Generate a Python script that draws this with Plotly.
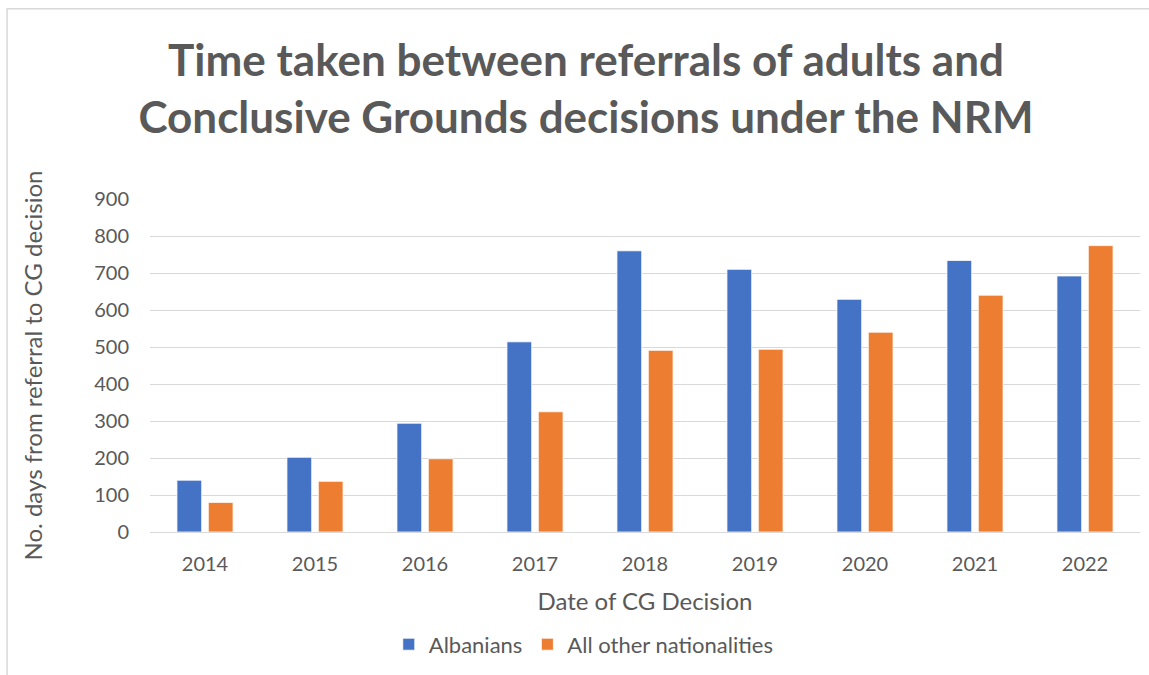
import plotly.graph_objects as go

years = ["2014", "2015", "2016", "2017", "2018", "2019", "2020", "2021", "2022"]
albanians = [140, 202, 294, 514, 760, 710, 629, 734, 692]
other_nationalities = [80, 137, 198, 325, 491, 494, 540, 640, 774]
series_names = ["Albanians", "All other nationalities"]
y_ticks = [0, 100, 200, 300, 400, 500, 600, 700, 800, 900]

W, H = 1149, 675
L, R, T, B = 150, 8.5, 199, 143.3
TXT = "#595959"
FONT = "Lato, 'Open Sans', sans-serif"

fig = go.Figure()
fig.add_trace(go.Bar(x=years, y=albanians, name=series_names[0],
                     marker=dict(color="#4472C4", line=dict(color="white", width=0.8))))
fig.add_trace(go.Bar(x=years, y=other_nationalities, name=series_names[1],
                     marker=dict(color="#ED7D31", line=dict(color="white", width=0.8))))

pw = W - L - R
ph = H - T - B
def px_x(p):
    return (p - L) / pw
def px_y(p):
    return (H - B - p) / ph

fig.update_layout(
    width=W, height=H,
    margin=dict(l=L, r=R, t=T, b=B),
    paper_bgcolor="white", plot_bgcolor="white",
    font=dict(family=FONT, color=TXT, size=20),
    barmode="group", bargap=0.43, bargroupgap=0.21,
    title=dict(text="Time taken between referrals of adults and<br>Conclusive Grounds decisions under the NRM",
               font=dict(family=FONT, size=44, color=TXT, weight="bold"),
               x=586 / W, xanchor="center", xref="container",
               y=1 - 76 / H, yanchor="middle", yref="container"),
    showlegend=True,
    legend=dict(orientation="h", x=px_x(584), xanchor="center", y=px_y(644), yanchor="middle",
                font=dict(size=22, color=TXT), itemwidth=30, traceorder="normal"),
    xaxis=dict(showgrid=False, showline=False, ticks="", zeroline=False,
               ticklabelstandoff=18,
               tickfont=dict(size=20, color=TXT),
               title=dict(text="Date of CG Decision", font=dict(size=24, color=TXT), standoff=19)),
    yaxis=dict(range=[0, 900], tickvals=y_ticks, showgrid=True, gridcolor="#D9D9D9", gridwidth=1.4,
               zeroline=True, zerolinecolor="#D9D9D9", zerolinewidth=1.4, showline=False,
               ticks="", ticklabelstandoff=20, tickfont=dict(size=20, color=TXT),
               title=dict(text="No. days from referral to CG decision", font=dict(size=24, color=TXT), standoff=44)),
    shapes=[dict(type="rect", xref="paper", yref="paper",
                 x0=px_x(7), x1=px_x(1160), y0=px_y(690), y1=px_y(9),
                 line=dict(color="#D9D9D9", width=1.5), fillcolor="rgba(0,0,0,0)", layer="below")],
)

fig.write_html("out.html", config={"displayModeBar": False},
               post_script="document.body.style.margin='0';document.body.style.padding='0';")
